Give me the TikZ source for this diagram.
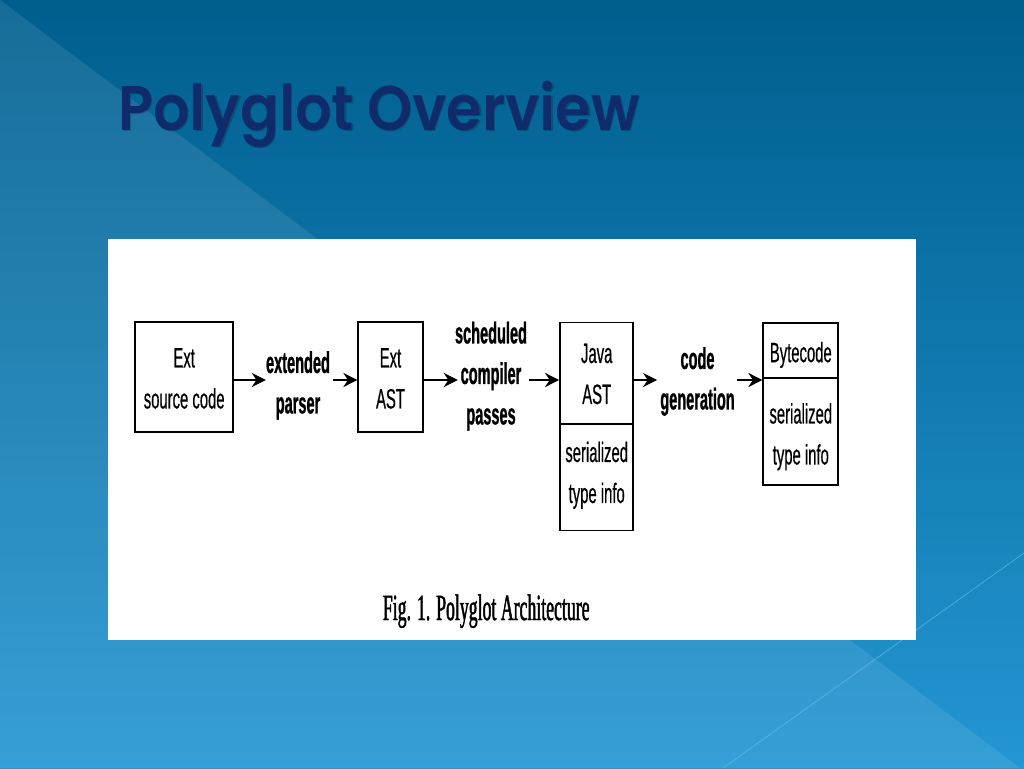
\documentclass[tikz,border=0pt]{standalone}
\usepackage{fontspec}
\newfontfamily\narrowf[FakeStretch=0.53,FakeBold=0.4]{Liberation Sans}
\newfontfamily\narrowb[FakeStretch=0.485,FakeBold=0.8]{Liberation Sans}
\newfontfamily\capf[FakeStretch=0.48,FakeBold=1.2]{Liberation Serif}
\newfontfamily\titlef[FakeStretch=0.91]{Poppins SemiBold}
\usetikzlibrary{arrows.meta}
\definecolor{bgtop}{HTML}{005E8D}
\definecolor{bgbot}{HTML}{2396D3}
\definecolor{titlec}{HTML}{0F2B6C}
\definecolor{streak}{HTML}{6CC0EA}
\tikzset{
  box/.style={draw=black, line width=1.8pt, inner sep=0pt, fill=white},
  boxtxt/.style={anchor=north, inner sep=0pt, align=center,
    font=\narrowf\fontsize{28}{41}\selectfont},
  steptxt/.style={anchor=north, inner sep=0pt, align=center,
    font=\narrowb\bfseries\fontsize{30}{40.5}\selectfont},
  arr/.style={line width=2.6pt, -{Stealth[length=14pt,width=14pt]}},
  titletxt/.style={anchor=base west, inner sep=0pt,
    font=\titlef\fontsize{63}{63}\selectfont}
}
\begin{document}
\begin{tikzpicture}[x=1pt,y=-1pt]
\useasboundingbox (0,0) rectangle (1024,768);
% background
\shade[top color=bgtop, bottom color=bgbot] (0,0) rectangle (1024,768);
\fill[white, opacity=0.09] (0,0) -- (1020,768) -- (0,768) -- cycle;
\draw[streak, opacity=0.6, line width=0.8pt] (1024,553) -- (723,768);
% title
\node[titletxt, text=black, opacity=0.2] (titleshadow) at (119.5,131.5) {Polyglot Overview};
\node[titletxt, text=titlec] (title) at (118,130) {Polyglot Overview};
% white panel
\fill[white] (108,239) rectangle (916,640);
\coordinate (ay) at (0,380);
% boxes
\node[box, minimum width=98.3pt, minimum height=110pt] (src) at (184.2,377) {};
\node[box, minimum width=64.4pt, minimum height=110pt] (ast) at (390.5,377) {};
\node[box, minimum width=73.3pt, minimum height=101.5pt] (java) at (596.7,373.3) {};
\node[box, minimum width=73.3pt, minimum height=106.5pt] (javat) at (596.7,477.3) {};
\node[box, minimum width=75pt, minimum height=55.8pt] (byte) at (800.8,350.5) {};
\node[box, minimum width=75pt, minimum height=106.7pt] (bytet) at (800.8,431.7) {};
% box texts (north = first baseline - cap height)
\node[boxtxt] (srct) at (184.2,348) {Ext\\source code};
\node[boxtxt] (astt) at (390.5,348) {Ext\\AST};
\node[boxtxt] (javatx) at (596.7,343.5) {Java\\AST};
\node[boxtxt] (javatt) at (596.7,441.5) {serialized\\type info};
\node[boxtxt] (bytetx) at (800.8,341.7) {Bytecode};
\node[boxtxt] (bytett) at (800.8,403) {serialized\\type info};
% step labels
\node[steptxt] (parse) at (298,351) {extended\\parser};
\node[steptxt] (passes) at (491,321.5) {scheduled\\compiler\\passes};
\node[steptxt] (gen) at (697.5,347) {code\\generation};
% arrows
\draw[arr] (src.east |- ay) -- (parse.west |- ay);
\draw[arr] ([xshift=3pt]parse.east |- ay) -- (ast.west |- ay);
\draw[arr] (ast.east |- ay) -- ([xshift=3pt]passes.west |- ay);
\draw[arr] ([xshift=1.5pt]passes.east |- ay) -- (java.west |- ay);
\draw[arr] (java.east |- ay) -- ([xshift=-3pt]gen.west |- ay);
\draw[arr] ([xshift=2pt]gen.east |- ay) -- (byte.west |- ay);
% caption
\node[anchor=base west, inner sep=0pt, font=\capf\fontsize{37}{37}\selectfont] (cap) at (382.7,620) {Fig. 1. Polyglot Architecture};
\end{tikzpicture}
\end{document}
